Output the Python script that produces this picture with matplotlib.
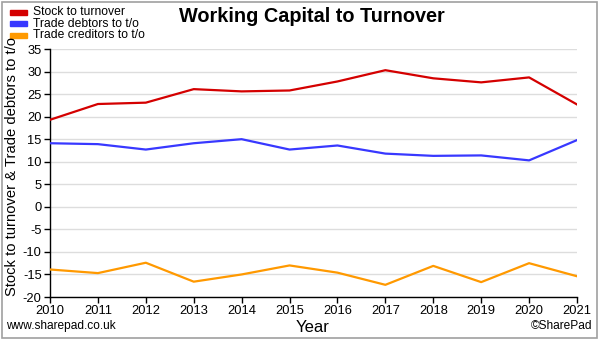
import numpy as np
import matplotlib.pyplot as plt
from matplotlib.patches import Rectangle

plt.rcParams['font.family'] = ['Liberation Sans', 'DejaVu Sans']
plt.rcParams['axes.unicode_minus'] = False

years = [2010, 2011, 2012, 2013, 2014, 2015, 2016, 2017, 2018, 2019, 2020, 2021]
stock = [19.3, 22.8, 23.1, 26.1, 25.6, 25.8, 27.8, 30.3, 28.5, 27.6, 28.7, 22.7]
debtors = [14.1, 13.9, 12.7, 14.1, 15.0, 12.7, 13.6, 11.8, 11.3, 11.4, 10.3, 14.8]
creditors = [-13.9, -14.7, -12.4, -16.6, -15.0, -13.0, -14.6, -17.3, -13.1, -16.7, -12.5, -15.4]

series_names = ['Stock to turnover', 'Trade debtors to t/o', 'Trade creditors to t/o']
colors = ['#d40000', '#3838ff', '#ff9900']

W, H = 600, 340
fig = plt.figure(figsize=(W / 100, H / 100), dpi=100)
ax = fig.add_axes([50 / W, 1 - 297 / H, (577 - 50) / W, (297 - 49) / H])

for vals, c in zip([stock, debtors, creditors], colors):
    ax.plot(years, vals, color=c, lw=1.6, zorder=3)

ax.set_xlim(2010, 2021)
ax.set_ylim(-20, 35)
ax.set_xticks(years)
ax.set_yticks(np.arange(-20, 36, 5))
ax.tick_params(labelsize=9.3, length=4, width=1, pad=2, colors='black')
ax.grid(axis='y', color='#dddddd', lw=1)
ax.set_axisbelow(True)
for s in ['top', 'right']:
    ax.spines[s].set_visible(False)
for s in ['left', 'bottom']:
    ax.spines[s].set_linewidth(1)

fig.text(12.5 / W, 1 - 167 / H, 'Stock to turnover & Trade debtors to t/o', fontsize=10.6,
         rotation=90, ha='center', va='center')
fig.text(313 / W, 1 - 327 / H, 'Year', fontsize=12, ha='center', va='center')
fig.text(6 / W, 1 - 326 / H, 'www.sharepad.co.uk', fontsize=8.6, ha='left', va='center')
fig.text(592 / W, 1 - 326 / H, '\u00a9SharePad', fontsize=8.6, ha='right', va='center')

fig.text(312 / W, 1 - 17 / H, 'Working Capital to Turnover', fontsize=14.3,
         fontweight='bold', ha='center', va='center')

# legend block in the top left corner
for i, (name, c) in enumerate(zip(series_names, colors)):
    y = 12 + i * 11.7
    fig.patches.append(Rectangle((10 / W, 1 - (y + 2.5) / H), 17 / W, 5 / H,
                                 color=c, transform=fig.transFigure))
    fig.text(33 / W, 1 - y / H, name, fontsize=8.7, ha='left', va='center')

# outer frame
fig.patches.append(Rectangle((2 / W, 2 / H), (W - 5) / W, (H - 4) / H, fill=False,
                             edgecolor='#a0a0a0', lw=1.2, transform=fig.transFigure))

fig.savefig('out.png', dpi=100)
